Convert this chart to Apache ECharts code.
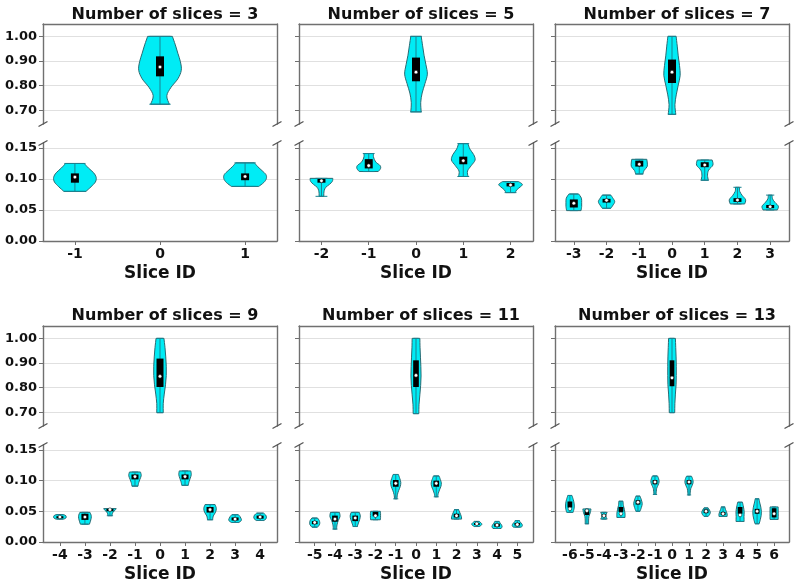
<!DOCTYPE html>
<html><head><meta charset="utf-8">
<script src="https://cdn.jsdelivr.net/npm/echarts@6/dist/echarts.min.js"></script>
<style>html,body{margin:0;padding:0;background:#fff}#c{width:800px;height:585px}</style>
</head><body><div id="c"></div>
<script>
// ---------------- DATA ----------------
const titles = ['Number of slices = 3','Number of slices = 5','Number of slices = 7','Number of slices = 9','Number of slices = 11','Number of slices = 13'];
const xName = 'Slice ID';
const upperTicks = [0.70, 0.80, 0.90, 1.00];
const lowerTicks = [0.00, 0.05, 0.10, 0.15];

// N = 3
const ids3 = [-1, 0, 1];
const min3 = [0.080, 0.725, 0.088];
const max3 = [0.125, 1.000, 0.126];
const q1_3 = [0.094, 0.838, 0.098];
const med3 = [0.103, 0.876, 0.104];
const q3_3 = [0.109, 0.919, 0.109];
const shape3 = [
  [0.13, 0.19, 0.24, 0.25, 0.22, 0.16, 0.11],
  [0.11, 0.08, 0.13, 0.21, 0.25, 0.24, 0.21, 0.18, 0.145],
  [0.16, 0.22, 0.25, 0.245, 0.20, 0.15, 0.11]
];
// N = 5
const ids5 = [-2, -1, 0, 1, 2];
const min5 = [0.072, 0.112, 0.694, 0.104, 0.078];
const max5 = [0.101, 0.141, 1.000, 0.157, 0.0957];
const q1_5 = [0.094, 0.117, 0.818, 0.1237, 0.088];
const med5 = [0.097, 0.1215, 0.855, 0.1295, 0.0903];
const q3_5 = [0.100, 0.132, 0.914, 0.136, 0.0935];
const shape5 = [
  [0.05, 0.05, 0.06, 0.09, 0.17, 0.23, 0.24],
  [0.20, 0.25, 0.24, 0.16, 0.12, 0.10, 0.10],
  [0.11, 0.10, 0.13, 0.19, 0.24, 0.21, 0.17, 0.14, 0.11],
  [0.10, 0.09, 0.17, 0.25, 0.22, 0.14, 0.10],
  [0.10, 0.13, 0.20, 0.25, 0.17]
];
// N = 7
const ids7 = [-3, -2, -1, 0, 1, 2, 3];
const min7 = [0.049, 0.0527, 0.108, 0.684, 0.098, 0.0597, 0.050];
const max7 = [0.0758, 0.074, 0.1317, 1.000, 0.1306, 0.0866, 0.074];
const q1_7 = [0.054, 0.062, 0.120, 0.811, 0.119, 0.063, 0.053];
const med7 = [0.0608, 0.0656, 0.1237, 0.855, 0.1226, 0.066, 0.0553];
const q3_7 = [0.067, 0.068, 0.1295, 0.906, 0.127, 0.069, 0.058];
const shape7 = [
  [0.22, 0.24, 0.24, 0.23, 0.15],
  [0.13, 0.20, 0.25, 0.20, 0.13],
  [0.11, 0.15, 0.24, 0.245, 0.23],
  [0.116, 0.09, 0.13, 0.19, 0.25, 0.23, 0.19, 0.16, 0.126],
  [0.11, 0.086, 0.12, 0.25, 0.227],
  [0.22, 0.25, 0.15, 0.07, 0.06],
  [0.22, 0.25, 0.15, 0.07, 0.06]
];
// N = 9
const ids9 = [-4, -3, -2, -1, 0, 1, 2, 3, 4];
const min9 = [0.0373, 0.029, 0.0428, 0.091, 0.699, 0.0923, 0.0362, 0.0318, 0.035];
const max9 = [0.0445, 0.0483, 0.0544, 0.114, 1.000, 0.1158, 0.061, 0.0445, 0.047];
const q1_9 = [0.039, 0.036, 0.050, 0.102, 0.803, 0.102, 0.048, 0.035, 0.038];
const med9 = [0.0407, 0.0407, 0.0527, 0.1065, 0.846, 0.1065, 0.0527, 0.0373, 0.0407];
const q3_9 = [0.042, 0.046, 0.054, 0.110, 0.918, 0.110, 0.057, 0.040, 0.043];
const shape9 = [
  [0.16, 0.24, 0.25, 0.24, 0.16],
  [0.18, 0.22, 0.25, 0.25, 0.20],
  [0.08, 0.09, 0.12, 0.20, 0.25],
  [0.12, 0.15, 0.20, 0.25, 0.22],
  [0.13, 0.13, 0.17, 0.22, 0.25, 0.25, 0.23, 0.20, 0.157],
  [0.13, 0.16, 0.21, 0.25, 0.23],
  [0.10, 0.13, 0.22, 0.25, 0.20],
  [0.15, 0.25, 0.24, 0.20, 0.13],
  [0.15, 0.24, 0.25, 0.22, 0.14]
];
// N = 11
const ids11 = [-5, -4, -3, -2, -1, 0, 1, 2, 3, 4, 5];
const min11 = [0.0242, 0.021, 0.0252, 0.0362, 0.0703, 0.695, 0.0736, 0.0373, 0.0252, 0.022, 0.0242];
const max11 = [0.039, 0.0483, 0.0483, 0.050, 0.110, 1.000, 0.1076, 0.0527, 0.0335, 0.0335, 0.035];
const q1_11 = [0.029, 0.033, 0.034, 0.042, 0.090, 0.803, 0.090, 0.040, 0.028, 0.025, 0.027];
const med11 = [0.0318, 0.0373, 0.039, 0.0428, 0.0955, 0.850, 0.0955, 0.0428, 0.0297, 0.0275, 0.0285];
const q3_11 = [0.034, 0.043, 0.043, 0.049, 0.101, 0.911, 0.100, 0.046, 0.031, 0.030, 0.031];
const shape11 = [
  [0.14, 0.23, 0.25, 0.22, 0.14],
  [0.08, 0.10, 0.16, 0.25, 0.22],
  [0.10, 0.16, 0.22, 0.25, 0.20],
  [0.24, 0.25, 0.25, 0.25, 0.24],
  [0.06, 0.08, 0.14, 0.22, 0.25, 0.20, 0.13],
  [0.14, 0.15, 0.19, 0.23, 0.25, 0.24, 0.22, 0.20, 0.19],
  [0.07, 0.10, 0.16, 0.23, 0.25, 0.20, 0.14],
  [0.25, 0.24, 0.20, 0.15, 0.10],
  [0.12, 0.22, 0.25, 0.20, 0.12],
  [0.20, 0.25, 0.22, 0.16, 0.10],
  [0.20, 0.25, 0.22, 0.15, 0.08]
];
// N = 13
const ids13 = [-6, -5, -4, -3, -2, -1, 0, 1, 2, 3, 4, 5, 6];
const min13 = [0.0483, 0.0297, 0.0373, 0.040, 0.050, 0.0774, 0.699, 0.0766, 0.0417, 0.0417, 0.0335, 0.0297, 0.0368];
const max13 = [0.0758, 0.0538, 0.0483, 0.0664, 0.0747, 0.1076, 1.000, 0.107, 0.0555, 0.0571, 0.0648, 0.0703, 0.0571];
const q1_13 = [0.056, 0.044, 0.041, 0.049, 0.061, 0.094, 0.806, 0.094, 0.047, 0.044, 0.046, 0.046, 0.040];
const med13 = [0.054, 0.051, 0.0428, 0.0461, 0.0648, 0.0977, 0.840, 0.0977, 0.050, 0.0461, 0.044, 0.050, 0.0461];
const q3_13 = [0.066, 0.052, 0.045, 0.057, 0.068, 0.101, 0.911, 0.101, 0.053, 0.049, 0.057, 0.054, 0.055];
const shape13 = [
  [0.19, 0.25, 0.25, 0.20, 0.12],
  [0.10, 0.10, 0.12, 0.20, 0.24],
  [0.19, 0.14, 0.10, 0.14, 0.19],
  [0.24, 0.24, 0.20, 0.14, 0.12],
  [0.12, 0.20, 0.25, 0.20, 0.12],
  [0.06, 0.08, 0.10, 0.18, 0.24, 0.22, 0.15],
  [0.16, 0.17, 0.20, 0.24, 0.25, 0.25, 0.24, 0.22, 0.20],
  [0.06, 0.08, 0.10, 0.18, 0.24, 0.22, 0.15],
  [0.12, 0.22, 0.25, 0.20, 0.12],
  [0.24, 0.24, 0.20, 0.14, 0.10],
  [0.24, 0.23, 0.24, 0.20, 0.14],
  [0.12, 0.19, 0.24, 0.25, 0.22, 0.16, 0.11],
  [0.24, 0.24, 0.24, 0.24, 0.24]
];

// ---------------- LAYOUT / STYLE ----------------
const panels = [
  {title: titles[0], ids: ids3,  min: min3,  max: max3,  q1: q1_3,  med: med3,  q3: q3_3,  shape: shape3},
  {title: titles[1], ids: ids5,  min: min5,  max: max5,  q1: q1_5,  med: med5,  q3: q3_5,  shape: shape5},
  {title: titles[2], ids: ids7,  min: min7,  max: max7,  q1: q1_7,  med: med7,  q3: q3_7,  shape: shape7},
  {title: titles[3], ids: ids9,  min: min9,  max: max9,  q1: q1_9,  med: med9,  q3: q3_9,  shape: shape9},
  {title: titles[4], ids: ids11, min: min11, max: max11, q1: q1_11, med: med11, q3: q3_11, shape: shape11},
  {title: titles[5], ids: ids13, min: min13, max: max13, q1: q1_13, med: med13, q3: q3_13, shape: shape13}
];
const FONT = 'DejaVu Sans';
const colLeft = [43, 299, 555];
const GW = 234;
const rows = [
  {titleTop: 2,   up: 24,  upH: 100, lo: 143, loH: 98},
  {titleTop: 303, up: 326, upH: 100, lo: 445, loH: 97}
];
const UP_MIN = 0.645, UP_MAX = 1.05, LO_MIN = 0, LO_MAX = 0.158;
const FILL = '#00ecf5', EDGE = '#2a6a72', INNER = '#1a8291', SPINE = '#707070', GRIDC = '#e0e0e0';

const option = {
  animation: false,
  backgroundColor: '#fff',
  title: [], grid: [], xAxis: [], yAxis: [], series: []
};

function fmt(v) { return v.toFixed(2); }

// Catmull-Rom outline through the knots, as cubic path segments (drawing only)
function splinePath(pts) {
  let s = '';
  for (let i = 0; i < pts.length - 1; i++) {
    const p0 = pts[Math.max(0, i - 1)], p1 = pts[i], p2 = pts[i + 1], p3 = pts[Math.min(pts.length - 1, i + 2)];
    const c1x = p1[0] + (p2[0] - p0[0]) / 6, c1y = p1[1] + (p2[1] - p0[1]) / 6;
    const c2x = p2[0] - (p3[0] - p1[0]) / 6, c2y = p2[1] - (p3[1] - p1[1]) / 6;
    s += 'C' + [c1x, c1y, c2x, c2y, p2[0], p2[1]].map(v => v.toFixed(2)).join(' ');
  }
  return s;
}

panels.forEach((p, pi) => {
  const col = pi % 3, row = rows[Math.floor(pi / 3)];
  const half = (p.ids.length - 1) / 2;
  const xr = 1.1 * half + 0.275;
  const spacingPx = GW / (2 * xr);
  const boxW = Math.min(8, 0.28 * spacingPx);
  const cx = colLeft[col] + GW / 2;

  option.title.push({
    text: p.title, left: cx, top: row.titleTop, textAlign: 'center',
    textStyle: {fontFamily: FONT, fontWeight: 'bold', fontSize: 16, color: '#111'}
  });

  const gUp = option.grid.length;
  option.grid.push({left: colLeft[col], top: row.up, width: GW, height: row.upH, outerBoundsMode: 'none', containLabel: false});
  const gLo = option.grid.length;
  option.grid.push({left: colLeft[col], top: row.lo, width: GW, height: row.loH, outerBoundsMode: 'none', containLabel: false});

  const xUp = option.xAxis.length;
  option.xAxis.push({
    type: 'value', gridIndex: gUp, position: 'top', min: -xr, max: xr,
    axisLine: {show: true, onZero: false, lineStyle: {color: SPINE, width: 1.4}},
    axisTick: {show: false}, axisLabel: {show: false}, splitLine: {show: false}
  });
  const xLo = option.xAxis.length;
  option.xAxis.push({
    type: 'value', gridIndex: gLo, position: 'bottom', min: -xr, max: xr,
    name: xName, nameLocation: 'middle', nameGap: 24,
    nameTextStyle: {fontFamily: FONT, fontWeight: 'bold', fontSize: 17, color: '#111'},
    axisLine: {show: true, onZero: false, lineStyle: {color: SPINE, width: 1.4}},
    axisTick: {show: true, customValues: p.ids, length: 4, inside: false, lineStyle: {color: SPINE}},
    axisLabel: {show: true, customValues: p.ids, margin: 6, interval: 0,
      fontFamily: FONT, fontWeight: 'bold', fontSize: 14, color: '#111'},
    splitLine: {show: false}
  });

  function yAxes(gi, mn, mx, ticks) {
    const left = option.yAxis.length;
    option.yAxis.push({
      type: 'value', gridIndex: gi, position: 'left', min: mn, max: mx,
      axisLine: {show: true, onZero: false, lineStyle: {color: SPINE, width: 1.4}},
      axisTick: {show: true, customValues: ticks, length: 4, lineStyle: {color: SPINE}},
      axisLabel: {show: col === 0, customValues: ticks, formatter: fmt, margin: 6,
        fontFamily: FONT, fontWeight: 'bold', fontSize: 13, color: '#111'},
      splitLine: {show: true, lineStyle: {color: GRIDC, width: 1}}
    });
    option.yAxis.push({
      type: 'value', gridIndex: gi, position: 'right', min: mn, max: mx,
      axisLine: {show: true, onZero: false, lineStyle: {color: SPINE, width: 1.4}},
      axisTick: {show: false}, axisLabel: {show: false}, splitLine: {show: false}
    });
    return left;
  }
  const yUp = yAxes(gUp, UP_MIN, UP_MAX, upperTicks);
  const yLo = yAxes(gLo, LO_MIN, LO_MAX, lowerTicks);

  const data = p.ids.map((id, i) => [id, p.med[i], i]);

  function renderViolin(params, api) {
    const i = api.value(2);
    const id = p.ids[i], lo = p.min[i], hi = p.max[i], w = p.shape[i];
    const n = w.length;
    const left = [], right = [];
    for (let k = 0; k < n; k++) {
      const y = lo + (hi - lo) * k / (n - 1);
      left.push(api.coord([id - w[k], y]));
      right.unshift(api.coord([id + w[k], y]));
    }
    const d = 'M' + left[0][0].toFixed(2) + ' ' + left[0][1].toFixed(2) + splinePath(left) +
      'L' + right[0][0].toFixed(2) + ' ' + right[0][1].toFixed(2) + splinePath(right) + 'Z';
    const c0 = api.coord([id, lo]), c1 = api.coord([id, hi]);
    const a0 = api.coord([id - 0.125, lo]), b0 = api.coord([id + 0.125, lo]);
    const a1 = api.coord([id - 0.125, hi]), b1 = api.coord([id + 0.125, hi]);
    const bq1 = api.coord([id, p.q1[i]]), bq3 = api.coord([id, p.q3[i]]), bm = api.coord([id, p.med[i]]);
    return {type: 'group', children: [
      {type: 'path', shape: {pathData: d}, style: {fill: FILL, stroke: EDGE, lineWidth: 1}},
      {type: 'line', shape: {x1: c0[0], y1: c0[1], x2: c1[0], y2: c1[1]}, style: {stroke: INNER, lineWidth: 1}},
      {type: 'line', shape: {x1: a0[0], y1: a0[1], x2: b0[0], y2: b0[1]}, style: {stroke: INNER, lineWidth: 1}},
      {type: 'line', shape: {x1: a1[0], y1: a1[1], x2: b1[0], y2: b1[1]}, style: {stroke: INNER, lineWidth: 1}},
      {type: 'rect', shape: {x: bq3[0] - boxW / 2, y: bq3[1], width: boxW, height: Math.max(2, bq1[1] - bq3[1])},
        style: {fill: '#000'}},
      {type: 'circle', shape: {cx: bm[0], cy: bm[1], r: 1.8}, style: {fill: '#fff', stroke: '#000', lineWidth: 0.5}}
    ]};
  }

  [[xUp, yUp], [xLo, yLo]].forEach(([xi, yi]) => {
    option.series.push({
      type: 'custom', xAxisIndex: xi, yAxisIndex: yi, clip: true, silent: true,
      encode: {x: 0, y: 1}, data: data, renderItem: renderViolin, z: 3
    });
  });

  function breakSeries(xi, yi, yEdge) {
    option.series.push({
      type: 'custom', xAxisIndex: xi, yAxisIndex: yi, clip: false, silent: true, z: 5,
      data: [[0, yEdge]], encode: {x: 0, y: 1},
      renderItem: function (params, api) {
        const L = api.coord([-xr, yEdge]), R = api.coord([xr, yEdge]);
        const mk = c => ({type: 'line', shape: {x1: c[0] - 4.5, y1: c[1] + 2.5, x2: c[0] + 4.5, y2: c[1] - 2.5},
          style: {stroke: '#555', lineWidth: 1.4}});
        return {type: 'group', children: [mk(L), mk(R)]};
      }
    });
  }
  breakSeries(xUp, yUp, UP_MIN);
  breakSeries(xLo, yLo, LO_MAX);
});

const chart = echarts.init(document.getElementById('c'), null, {renderer: 'canvas'});
chart.setOption(option);
</script>
</body></html>
